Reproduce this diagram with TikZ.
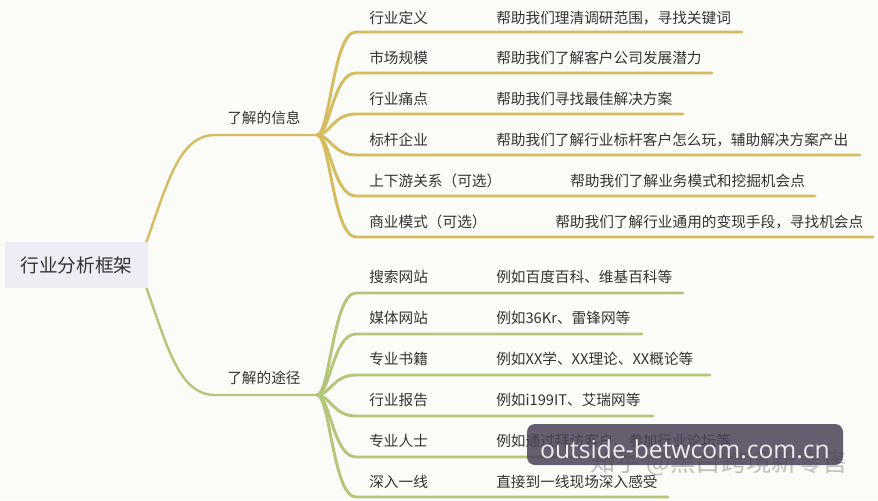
\documentclass[tikz,border=0pt]{standalone}
\usepackage{fontspec}
\setmainfont{Noto Sans CJK SC}
\newfontfamily\wmfont{Open Sans}
\definecolor{bg}{HTML}{FBFBF8}
\definecolor{rootfill}{HTML}{EDEDF5}
\definecolor{gold}{HTML}{D5BC5E}
\definecolor{olive}{HTML}{B4C67A}
\definecolor{txt}{HTML}{333333}
\definecolor{wmbox}{HTML}{4A4356}
\tikzset{
  lbl/.style={anchor=west,inner sep=0pt,text=txt,font=\fontsize{11pt}{13pt}\selectfont},
  goldline/.style={draw=gold,line width=2.2pt,line cap=round},
  oliveline/.style={draw=olive,line width=2.2pt,line cap=round},
  rootbox/.style={fill=rootfill,draw=none,minimum width=107pt,minimum height=34.5pt,inner sep=0pt,text=txt,font=\fontsize{14pt}{16pt}\selectfont}
}
\begin{document}
\begin{tikzpicture}[x=0.75pt,y=-0.75pt]
\fill[bg] (0,0) rectangle (878,500);
\useasboundingbox (0,0) rectangle (878,500);

% join points
\coordinate (rootjoin) at (138,265);
\coordinate (ufan) at (317,135);
\coordinate (lfan) at (317,395);

% branch labels
\node[lbl] (info) at (227,118) {了解的信息};
\node[lbl] (way) at (227,378) {了解的途径};

% root curves
\draw[goldline,line width=1.8pt] (rootjoin) .. controls (165,195) and (175,135) .. (215,135) -- (ufan);
\draw[oliveline,line width=1.8pt] (rootjoin) .. controls (165,335) and (175,395) .. (215,395) -- (lfan);

% upper children
\foreach \i/\y/\e in {1/32/742, 2/73/712, 3/114/683, 4/155/860, 5/196/815, 6/237/873}{
  \coordinate (us\i) at (356,\y);
  \coordinate (ue\i) at (\e,\y);
  \draw[goldline] (ufan) .. controls (330,135) and (333,\y) .. (us\i) -- (ue\i);
}
% lower children
\foreach \i/\y/\e in {1/293/683, 2/334/642, 3/375/710, 4/416/653, 5/457/742, 6/497/668}{
  \coordinate (ls\i) at (356,\y);
  \coordinate (le\i) at (\e,\y);
  \draw[oliveline] (lfan) .. controls (330,395) and (333,\y) .. (ls\i) -- (le\i);
}

% root node
\node[rootbox] (root) at (76.5,265) {行业分析框架};

% upper texts
\node[lbl] (u1t) at (369,18) {行业定义};
\node[lbl] (u1d) at (496,18) {帮助我们理清调研范围，寻找关键词};
\node[lbl] (u2t) at (369,58) {市场规模};
\node[lbl] (u2d) at (496,58) {帮助我们了解客户公司发展潜力};
\node[lbl] (u3t) at (369,99) {行业痛点};
\node[lbl] (u3d) at (496,99) {帮助我们寻找最佳解决方案};
\node[lbl] (u4t) at (369,140) {标杆企业};
\node[lbl] (u4d) at (496,140) {帮助我们了解行业标杆客户怎么玩，辅助解决方案产出};
\node[lbl] (u5t) at (369,181) {上下游关系（可选）};
\node[lbl] (u5d) at (570,181) {帮助我们了解业务模式和挖掘机会点};
\node[lbl] (u6t) at (369,222) {商业模式（可选）};
\node[lbl] (u6d) at (555,222) {帮助我们了解行业通用的变现手段，寻找机会点};

% lower texts
\node[lbl] (l1t) at (369,277) {搜索网站};
\node[lbl] (l1d) at (496,277) {例如百度百科、维基百科等};
\node[lbl] (l2t) at (369,318) {媒体网站};
\node[lbl] (l2d) at (496,318) {例如36Kr、雷锋网等};
\node[lbl] (l3t) at (369,359) {专业书籍};
\node[lbl] (l3d) at (496,359) {例如XX学、XX理论、XX概论等};
\node[lbl] (l4t) at (369,400) {行业报告};
\node[lbl] (l4d) at (496,400) {例如i199IT、艾瑞网等};
\node[lbl] (l5t) at (369,441) {专业人士};
\node[lbl] (l5d) at (496,441) {例如通过拜访客户、参加行业论坛等};
\node[lbl] (l6t) at (369,482) {深入一线};
\node[lbl] (l6d) at (496,482) {直接到一线现场深入感受};

% watermarks
\node[anchor=west,inner sep=0pt,text=black!25,font=\fontsize{19pt}{21pt}\selectfont] (wm2) at (590,463) {知乎 @黑白跨境新零售};
\fill[wmbox,fill opacity=0.85,rounded corners=6pt] (527,424) rectangle (843,465);
\node[inner sep=0pt,text=white!92!black,font=\wmfont\fontsize{18.5pt}{20pt}\selectfont] (wm1) at (685,449) {outside-betwcom.com.cn};
\end{tikzpicture}
\end{document}
